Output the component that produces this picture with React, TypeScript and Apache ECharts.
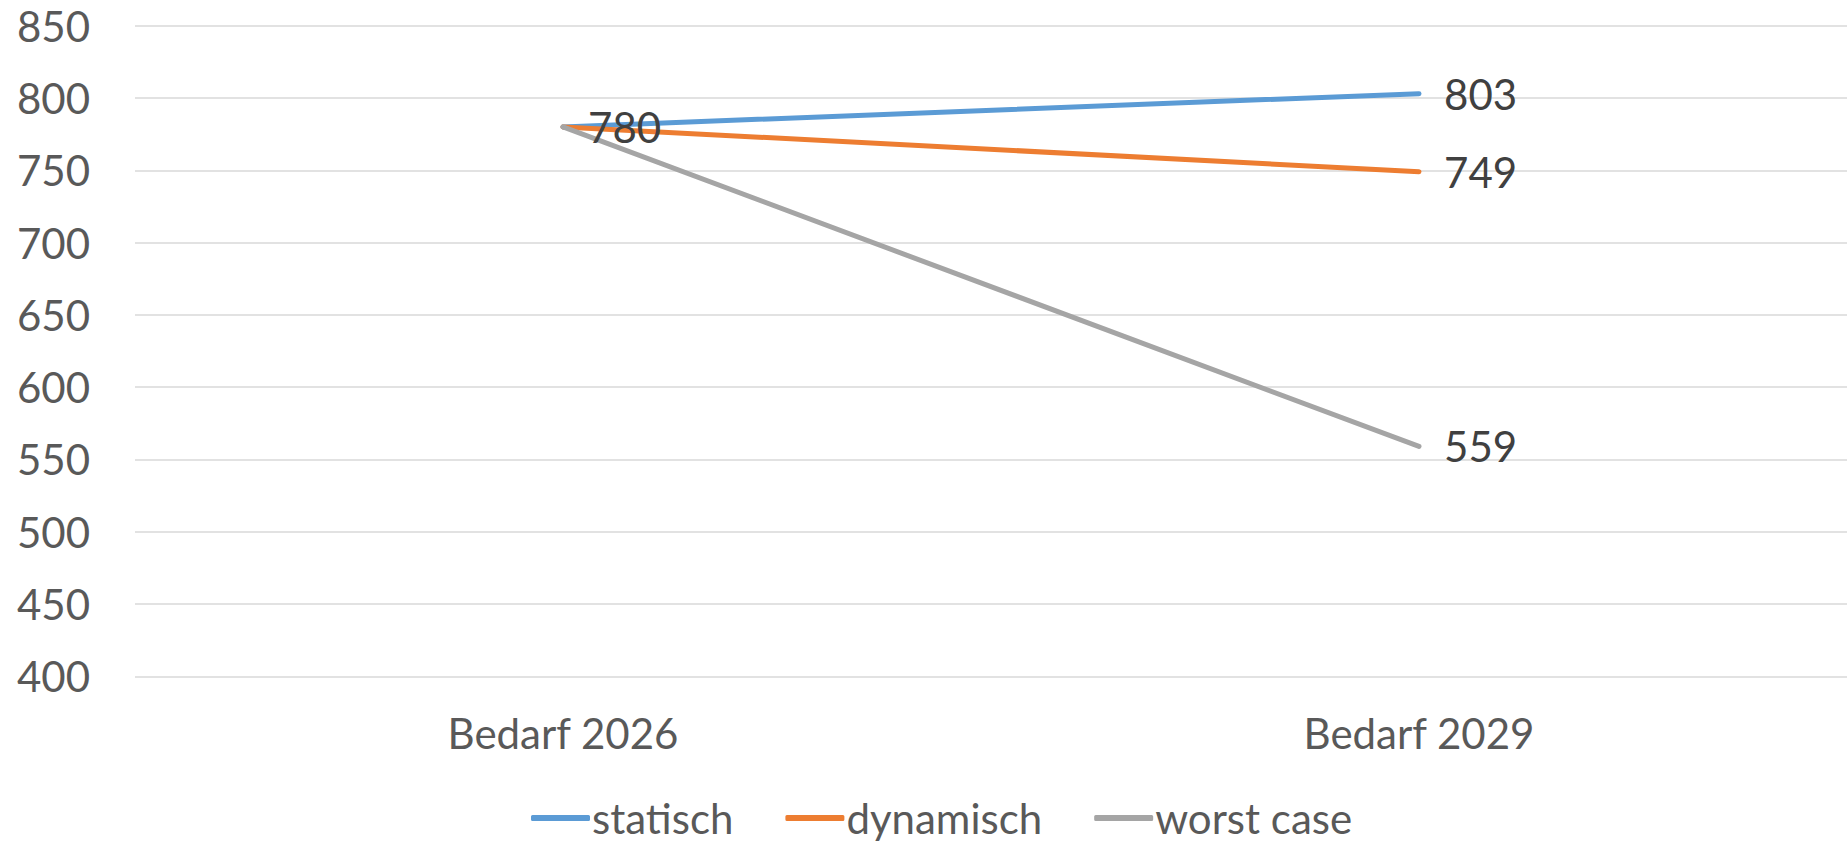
import React, { useEffect, useRef } from "react";
import * as echarts from "echarts";

const categories = ["Bedarf 2026", "Bedarf 2029"];
const statisch = [780, 803];
const dynamisch = [780, 749];
const worstCase = [780, 559];
const yTicks = { min: 400, max: 850, interval: 50 };

const FONT = "Lato, 'Open Sans', sans-serif";

function withLabels(values: number[], showFirst: boolean) {
  return values.map((v, i) => ({
    value: v,
    label: { show: i > 0 || showFirst },
  }));
}

export default function App() {
  const ref = useRef<HTMLDivElement>(null);
  useEffect(() => {
    if (!ref.current) return;
    const chart = echarts.init(ref.current, undefined, { renderer: "svg" });
    const label = {
      show: true,
      position: "right" as const,
      distance: 25,
      fontFamily: FONT,
      fontSize: 42,
      color: "#404040",
    };
    const mk = (name: string, values: number[], color: string, showFirst: boolean) => ({
      name,
      type: "line",
      data: withLabels(values, showFirst),
      symbol: "circle",
      symbolSize: 0.1,
      showSymbol: true,
      lineStyle: { color, width: 5, cap: "round" },
      itemStyle: { color },
      label,
    });
    chart.setOption({
      animation: false,
      grid: { left: 135, right: 0, top: 25.7, bottom: 843 - 676.3, containLabel: false },
      legend: {
        left: 526,
        top: 792,
        icon: "roundRect",
        itemWidth: 59,
        itemHeight: 6,
        itemGap: 52,
        textStyle: { fontFamily: FONT, fontSize: 42, color: "#595959", padding: [0, 0, 0, -3] },
        data: ["statisch", "dynamisch", "worst case"],
      },
      xAxis: {
        type: "category",
        data: categories,
        boundaryGap: true,
        axisLine: { show: false },
        axisTick: { show: false },
        axisLabel: { fontFamily: FONT, fontSize: 42, color: "#595959", margin: 36 },
      },
      yAxis: {
        type: "value",
        min: yTicks.min,
        max: yTicks.max,
        interval: yTicks.interval,
        axisLine: { show: false },
        axisTick: { show: false },
        splitLine: { lineStyle: { color: "#d9d9d9", width: 1.5 } },
        axisLabel: { fontFamily: FONT, fontSize: 42, color: "#595959", margin: 45 },
      },
      series: [
        mk("statisch", statisch, "#5B9BD5", true),
        mk("dynamisch", dynamisch, "#ED7D31", false),
        mk("worst case", worstCase, "#A5A5A5", false),
      ],
    });
    return () => chart.dispose();
  }, []);
  return (
    <div
      ref={ref}
      style={{ position: "absolute", left: 0, top: 0, width: 1847, height: 843, background: "#fff" }}
    />
  );
}
